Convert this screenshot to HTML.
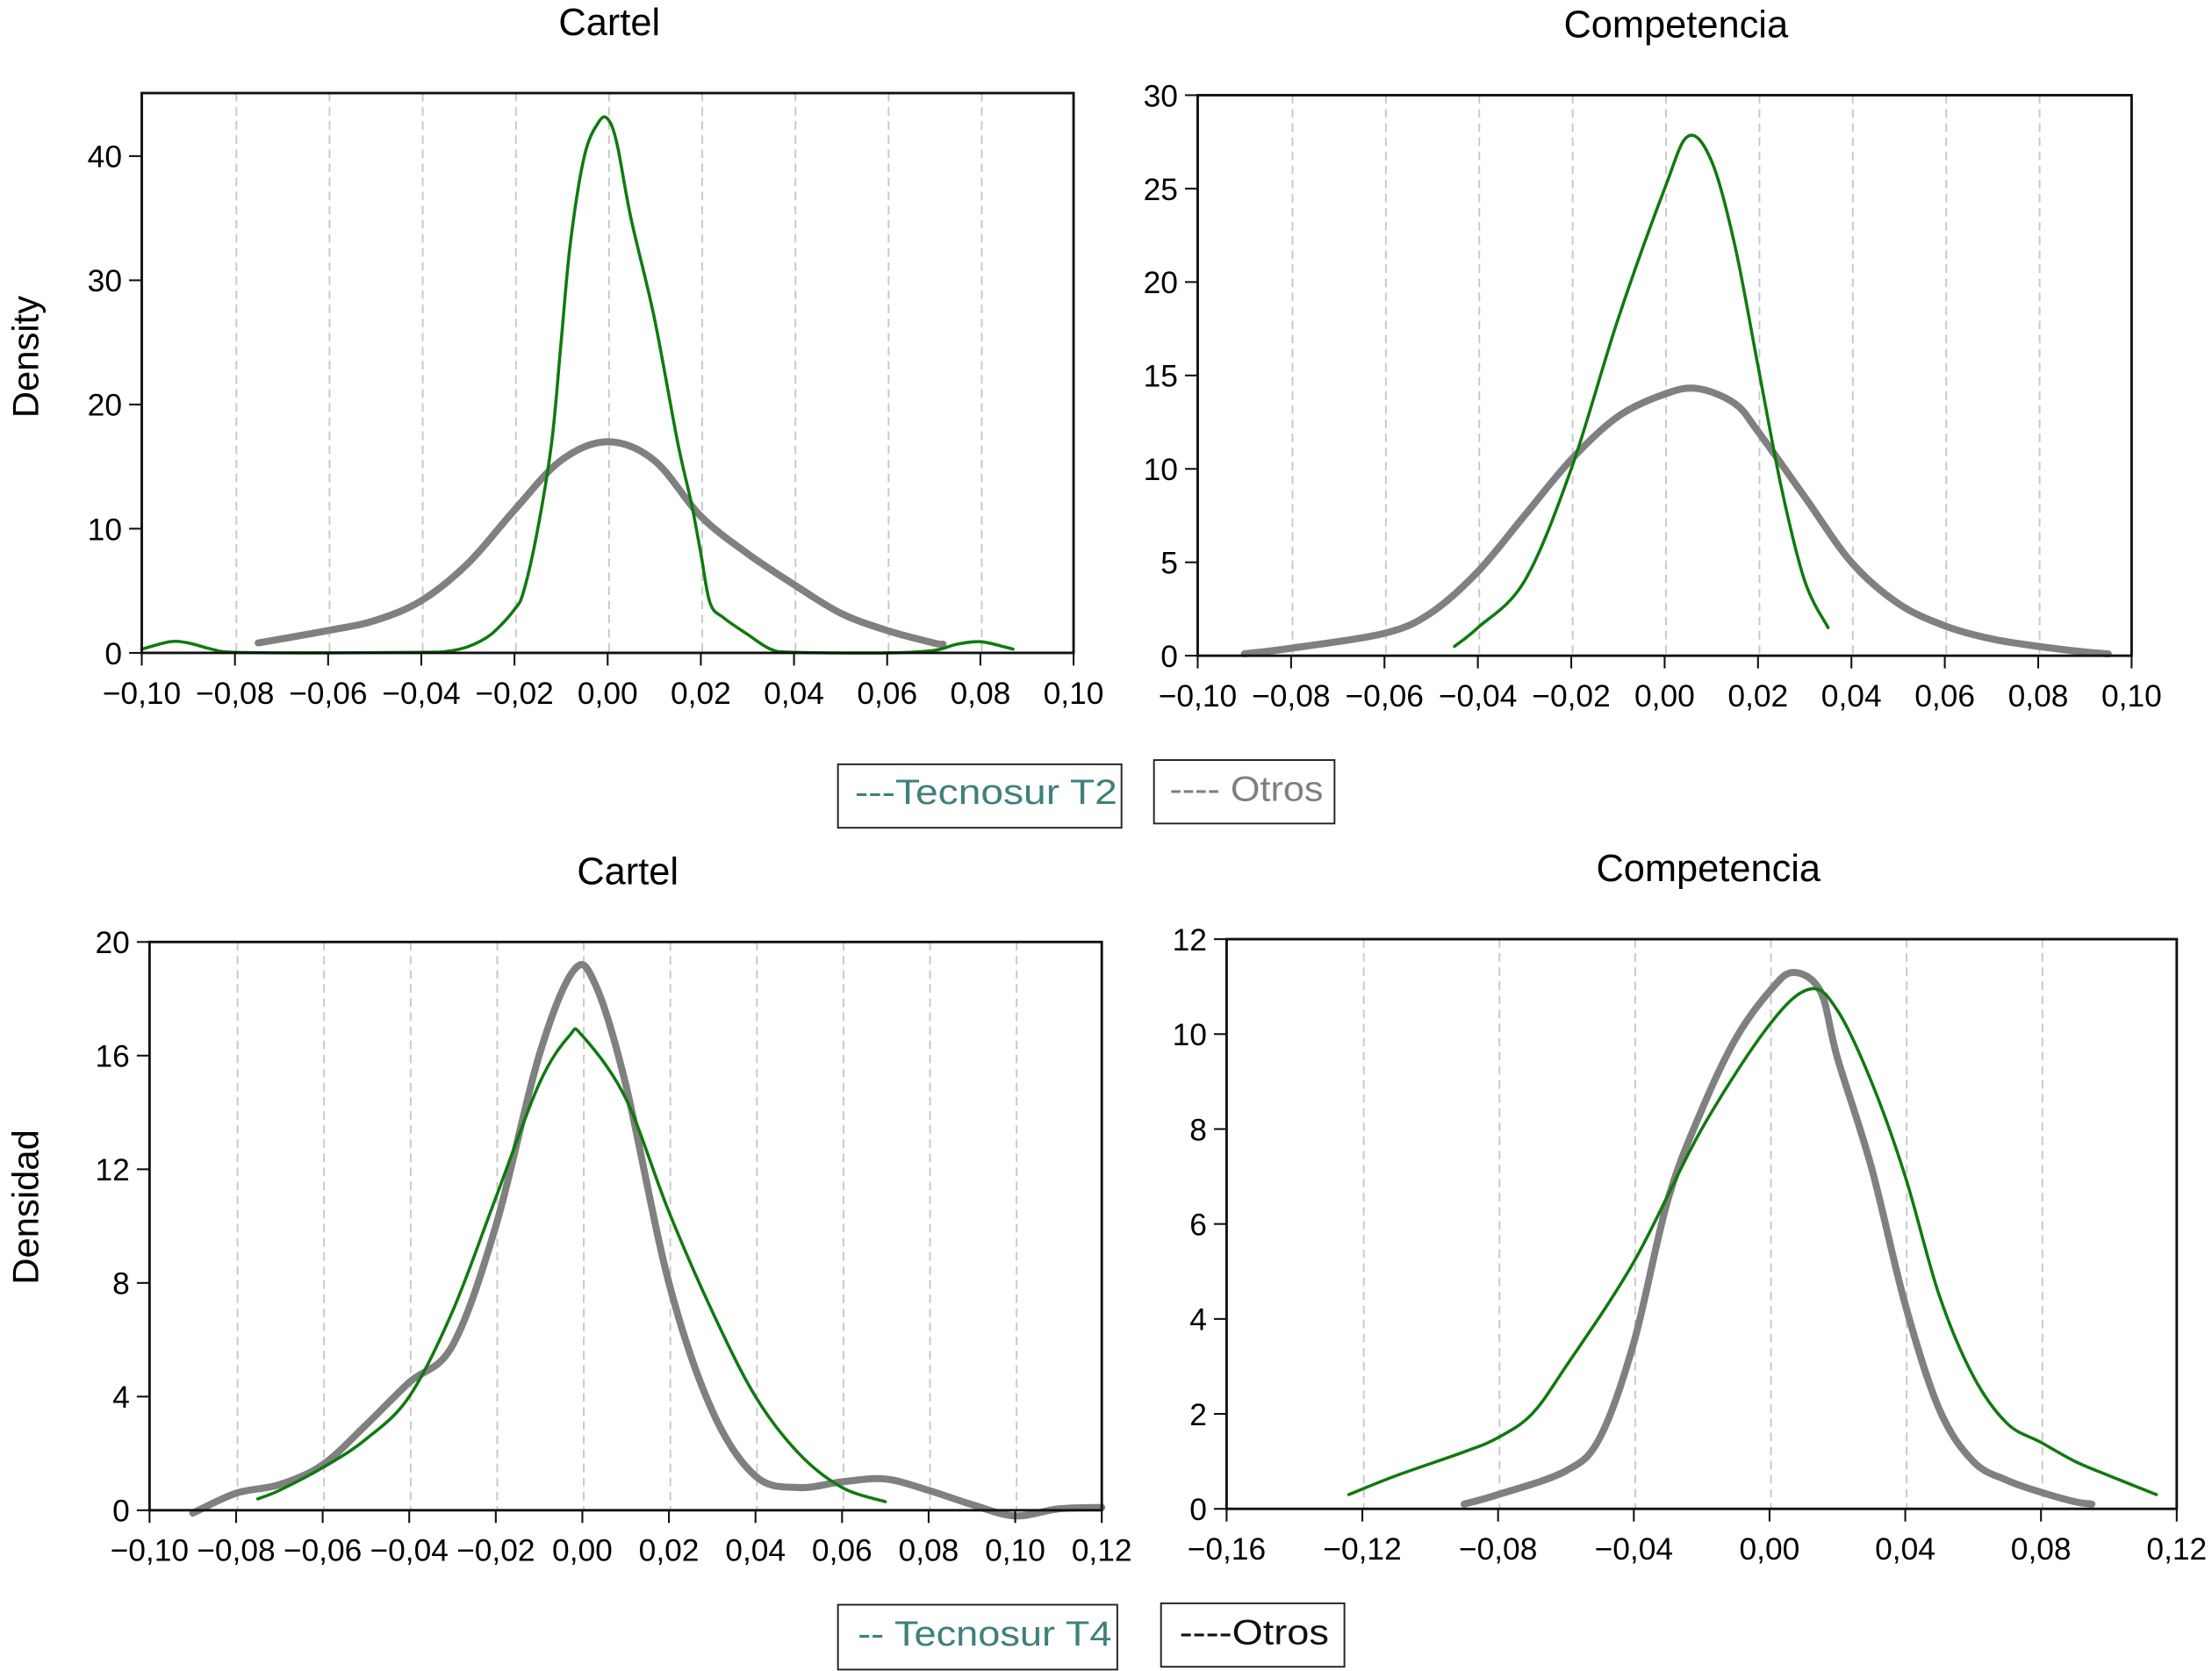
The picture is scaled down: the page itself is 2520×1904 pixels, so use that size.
<!DOCTYPE html>
<html><head><meta charset="utf-8"><style>
html,body{margin:0;padding:0;background:#fff}
svg{display:block}
text{font-family:"Liberation Sans",sans-serif}
</style></head><body>
<svg id="chart" width="2520" height="1904" viewBox="0 0 1568 1185" preserveAspectRatio="none" xmlns="http://www.w3.org/2000/svg">
<rect x="0" y="0" width="1568" height="1185" fill="#fff"/>
<text x="0" y="0" font-size="26" transform="translate(27,253) rotate(-90)" text-anchor="middle">Density</text>
<text x="0" y="0" font-size="26" transform="translate(27,856) rotate(-90)" text-anchor="middle">Densidad</text>
<g>
<rect x="594" y="542" width="201" height="45" fill="#fff" stroke="#222" stroke-width="1.2"/>
<text x="606" y="570" font-size="25" fill="#3f7f7c" textLength="186" lengthAdjust="spacingAndGlyphs">---Tecnosur T2</text>
<rect x="818" y="539" width="128" height="45" fill="#fff" stroke="#222" stroke-width="1.2"/>
<text x="829" y="568" font-size="25" fill="#808080" textLength="109" lengthAdjust="spacingAndGlyphs">---- Otros</text>
</g>
<g>
<rect x="594" y="1138" width="198" height="46" fill="#fff" stroke="#222" stroke-width="1.2"/>
<text x="608" y="1167" font-size="25" fill="#3f7f7c" textLength="180" lengthAdjust="spacingAndGlyphs">-- Tecnosur T4</text>
<rect x="823" y="1137" width="130" height="45" fill="#fff" stroke="#222" stroke-width="1.2"/>
<text x="836" y="1166" font-size="25" fill="#111" textLength="106" lengthAdjust="spacingAndGlyphs">----Otros</text>
</g>
</svg>
<script>
// Panel 1: Cartel (top)
const p1GreenX=[-0.10,-0.094,-0.09,-0.085,-0.08,-0.06,-0.04,-0.035,-0.03,-0.025,-0.02,-0.018,-0.015,-0.012,-0.01,-0.008,-0.005,-0.002,0.0,0.002,0.005,0.01,0.015,0.018,0.02,0.022,0.025,0.03,0.035,0.04,0.06,0.07,0.075,0.08,0.085,0.087];
const p1GreenY=[0.3,0.9,0.8,0.3,0.05,0,0.05,0.1,0.5,1.5,3.5,5,10,17,25,33,40,42.7,43,41,35,27,17,12,8,4,2.8,1.5,0.3,0.05,0,0.2,0.7,0.9,0.5,0.3];
const p1GreyX=[-0.075,-0.06,-0.05,-0.04,-0.03,-0.02,-0.01,0,0.01,0.02,0.03,0.04,0.05,0.06,0.07,0.072];
const p1GreyY=[0.8,1.8,2.6,4.2,7.2,11.5,15.5,17,15.5,11,8,5.5,3.2,1.8,0.8,0.7];
const p1XTicks=[-0.10,-0.08,-0.06,-0.04,-0.02,0,0.02,0.04,0.06,0.08,0.10];
const p1YTicks=[0,10,20,30,40];
// Panel 2: Competencia (top)
const p2GreenX=[-0.045,-0.04,-0.03,-0.02,-0.01,0,0.005,0.01,0.015,0.02,0.025,0.03,0.035];
const p2GreenY=[0.5,1.5,4,10,18,25,27.8,26.5,22,15.5,9,4,1.5];
const p2GreyX=[-0.09,-0.08,-0.06,-0.05,-0.04,-0.03,-0.02,-0.01,0,0.007,0.015,0.02,0.03,0.04,0.05,0.06,0.07,0.08,0.09,0.095];
const p2GreyY=[0.1,0.4,1.2,2.3,4.5,7.5,10.5,12.8,14,14.3,13.5,12,8.5,5,2.8,1.6,0.9,0.5,0.2,0.1];
const p2XTicks=[-0.10,-0.08,-0.06,-0.04,-0.02,0,0.02,0.04,0.06,0.08,0.10];
const p2YTicks=[0,5,10,15,20,25,30];
// Panel 3: Cartel (bottom)
const p3GreenX=[-0.075,-0.07,-0.06,-0.05,-0.04,-0.03,-0.02,-0.01,-0.003,0,0.01,0.02,0.03,0.04,0.05,0.06,0.07];
const p3GreenY=[0.4,0.7,1.5,2.5,4,7,11,15,16.7,16.7,14.5,10.5,7,4,2,0.8,0.3];
const p3GreyX=[-0.09,-0.08,-0.07,-0.06,-0.05,-0.04,-0.03,-0.02,-0.01,-0.002,0.003,0.01,0.02,0.03,0.04,0.05,0.06,0.07,0.08,0.09,0.1,0.11,0.12];
const p3GreyY=[-0.1,0.6,0.9,1.6,3,4.5,5.8,10,16,19,18.5,15,8,3.5,1.2,0.8,1,1.1,0.7,0.2,-0.2,0.05,0.1];
const p3XTicks=[-0.10,-0.08,-0.06,-0.04,-0.02,0,0.02,0.04,0.06,0.08,0.10,0.12];
const p3YTicks=[0,4,8,12,16,20];
// Panel 4: Competencia (bottom)
const p4GreenX=[-0.124,-0.11,-0.09,-0.08,-0.07,-0.06,-0.04,-0.02,0,0.012,0.02,0.03,0.04,0.05,0.06,0.07,0.08,0.09,0.1,0.114];
const p4GreenY=[0.3,0.7,1.2,1.5,2,3,5.2,8,10.2,10.95,10.5,9,7,4.5,2.8,1.8,1.4,1,0.7,0.3];
const p4GreyX=[-0.09,-0.08,-0.06,-0.05,-0.04,-0.03,-0.02,-0.01,0,0.007,0.015,0.02,0.03,0.04,0.05,0.06,0.07,0.08,0.09,0.095];
const p4GreyY=[0.1,0.3,0.8,1.5,3.5,6.5,8.4,9.9,10.9,11.3,10.9,9.5,7.2,4.3,2.1,1.0,0.6,0.35,0.15,0.1];
const p4XTicks=[-0.16,-0.12,-0.08,-0.04,0,0.04,0.08,0.12];
const p4YTicks=[0,2,4,6,8,10,12];

const NS="http://www.w3.org/2000/svg";
const svg=document.getElementById('chart');
function mk(tag,attrs,parent){const e=document.createElementNS(NS,tag);for(const k in attrs)e.setAttribute(k,attrs[k]);(parent||svg).appendChild(e);return e;}
function fmt(v){let s=Math.abs(v).toFixed(2).replace('.',',');return (v< -1e-9?'\u2212':'')+s;}
function smooth(pts){let d='M'+pts[0][0]+','+pts[0][1];for(let i=0;i<pts.length-1;i++){const p0=pts[Math.max(0,i-1)],p1=pts[i],p2=pts[i+1],p3=pts[Math.min(pts.length-1,i+2)];const c1=[p1[0]+(p2[0]-p0[0])/6,p1[1]+(p2[1]-p0[1])/6],c2=[p2[0]-(p3[0]-p1[0])/6,p2[1]-(p3[1]-p1[1])/6];d+=' C'+c1[0]+','+c1[1]+' '+c2[0]+','+c2[1]+' '+p2[0]+','+p2[1];}return d;}
function panel(o){
  const g=mk('g',{});
  
  
  const sx=v=>o.L+(v-o.xmin)/(o.xmax-o.xmin)*(o.R-o.L);
  const sy=v=>o.B-(v-o.ymin)/(o.ymax-o.ymin)*(o.B-o.T);
  const t=mk('text',{x:o.tx,y:o.T-41,'font-size':27,'text-anchor':'middle'},g);
  t.textContent=o.title;
  
  
  o.grid.forEach(v=>{const x=sx(v)+1;const l=mk('line',{x1:x,x2:x,y1:o.T,y2:o.B,stroke:'#c8c8c8','stroke-width':1.2,'stroke-dasharray':'6,4'},g);
    
    });
  const line=(xs,ys,col,w,nm)=>{const p=mk('path',{d:smooth(xs.map((x,i)=>[sx(x),sy(ys[i])])),fill:'none',stroke:col,'stroke-width':w,'stroke-linecap':'round','stroke-linejoin':'round'},g);
    
    };
  line(o.gyX,o.gyY,'#808080',5,'series-otros');
  line(o.gnX,o.gnY,'#0f7a0f',2.2,'series-tecnosur');
  const f=mk('rect',{x:o.L,y:o.T,width:o.R-o.L,height:o.B-o.T,fill:'none',stroke:'#111','stroke-width':1.8},g);
  
  
  o.xt.forEach(v=>{const x=sx(v);mk('line',{x1:x,x2:x,y1:o.B,y2:o.B+9,stroke:'#111','stroke-width':1.3},g);
    const tx=mk('text',{x:x,y:o.B+36,'font-size':22,'text-anchor':'middle'},g);tx.textContent=fmt(v);
    
    });
  o.yt.forEach(v=>{const y=sy(v);mk('line',{x1:o.L-9,x2:o.L,y1:y,y2:y,stroke:'#111','stroke-width':1.3},g);
    const ty=mk('text',{x:o.L-14,y:y+8,'font-size':22,'text-anchor':'end'},g);ty.textContent=String(v);
    
    });
}
panel({name:'panel-cartel-top',title:'Cartel',tx:432,L:100.5,R:761,T:66,B:463,xmin:-0.10,xmax:0.10,ymin:0,ymax:(463-66)/((463-110.7)/40),
  grid:[-0.08,-0.06,-0.04,-0.02,0,0.02,0.04,0.06,0.08],xt:p1XTicks,yt:p1YTicks,gnX:p1GreenX,gnY:p1GreenY,gyX:p1GreyX,gyY:p1GreyY});
panel({name:'panel-competencia-top',title:'Competencia',tx:1188,L:849,R:1511,T:67.5,B:465,xmin:-0.10,xmax:0.10,ymin:0,ymax:30,
  grid:[-0.08,-0.06,-0.04,-0.02,0,0.02,0.04,0.06,0.08],xt:p2XTicks,yt:p2YTicks,gnX:p2GreenX,gnY:p2GreenY,gyX:p2GreyX,gyY:p2GreyY});
panel({name:'panel-cartel-bottom',title:'Cartel',tx:445,L:106,R:781,T:668,B:1071,xmin:-0.10,xmax:0.12,ymin:0,ymax:20,
  grid:[-0.08,-0.06,-0.04,-0.02,0,0.02,0.04,0.06,0.08,0.10],xt:p3XTicks,yt:p3YTicks,gnX:p3GreenX,gnY:p3GreenY,gyX:p3GreyX,gyY:p3GreyY});
panel({name:'panel-competencia-bottom',title:'Competencia',tx:1211,L:869.5,R:1543,T:666,B:1070,xmin:-0.16,xmax:0.12,ymin:0,ymax:12,
  grid:[-0.12,-0.08,-0.04,0,0.04,0.08],xt:p4XTicks,yt:p4YTicks,gnX:p4GreenX,gnY:p4GreenY,gyX:p4GreyX,gyY:p4GreyY});
</script>
</body></html>
